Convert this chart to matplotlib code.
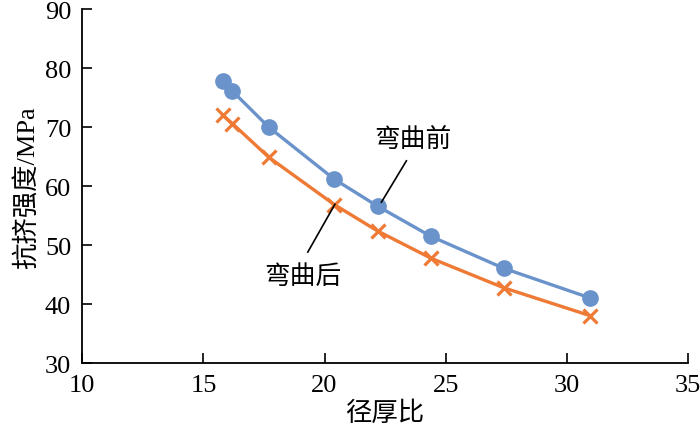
import matplotlib.pyplot as plt

plt.rcParams['font.family'] = ['Liberation Serif', 'Noto Sans CJK SC']

# 径厚比
x = [15.8, 16.2, 17.7, 20.4, 22.2, 24.4, 27.4, 30.95]
# 抗挤强度 / MPa
before = [77.8, 76.1, 70.0, 61.2, 56.6, 51.5, 46.1, 41.1]   # 弯曲前
after = [72.0, 70.6, 64.9, 56.9, 52.4, 47.8, 42.8, 38.1]    # 弯曲后

xticks = [10, 15, 20, 25, 30, 35]
yticks = [30, 40, 50, 60, 70, 80, 90]

fig = plt.figure(figsize=(7, 4.39), dpi=100)
ax = fig.add_axes([0.1176, 0.170, 0.865, 0.807])

ax.plot(x, before, color='#6a93cb', lw=2.4, marker='o', ms=11, zorder=3)
ax.plot(x, after, color='#ee7a36', lw=2.4, marker='x', ms=10.5, mew=2.3, zorder=3)

ax.set_xlim(10, 35)
ax.set_ylim(30, 90)
ax.set_xticks(xticks)
ax.set_yticks(yticks)
ax.tick_params(direction='in', length=7, width=1.2, labelsize=19, pad=8)
ax.spines['top'].set_visible(False)
ax.spines['right'].set_visible(False)
for s in ['left', 'bottom']:
    ax.spines[s].set_linewidth(1.3)

ax.set_xlabel('径厚比', fontsize=19, family=['Noto Sans CJK SC'], labelpad=2)
ax.set_ylabel('抗挤强度/MPa', fontsize=19, labelpad=4)

# 标注
ax.text(23.64, 68.0, '弯曲前', fontsize=18.5, family=['Noto Sans CJK SC'],
        ha='center', va='center')
ax.plot([23.38, 22.35], [64.3, 57.3], color='black', lw=1.2, zorder=4)
ax.text(19.10, 44.8, '弯曲后', fontsize=18.5, family=['Noto Sans CJK SC'],
        ha='center', va='center')
ax.plot([19.31, 20.43], [48.85, 56.95], color='black', lw=1.2, zorder=4)

fig.savefig('out.png', dpi=100)
